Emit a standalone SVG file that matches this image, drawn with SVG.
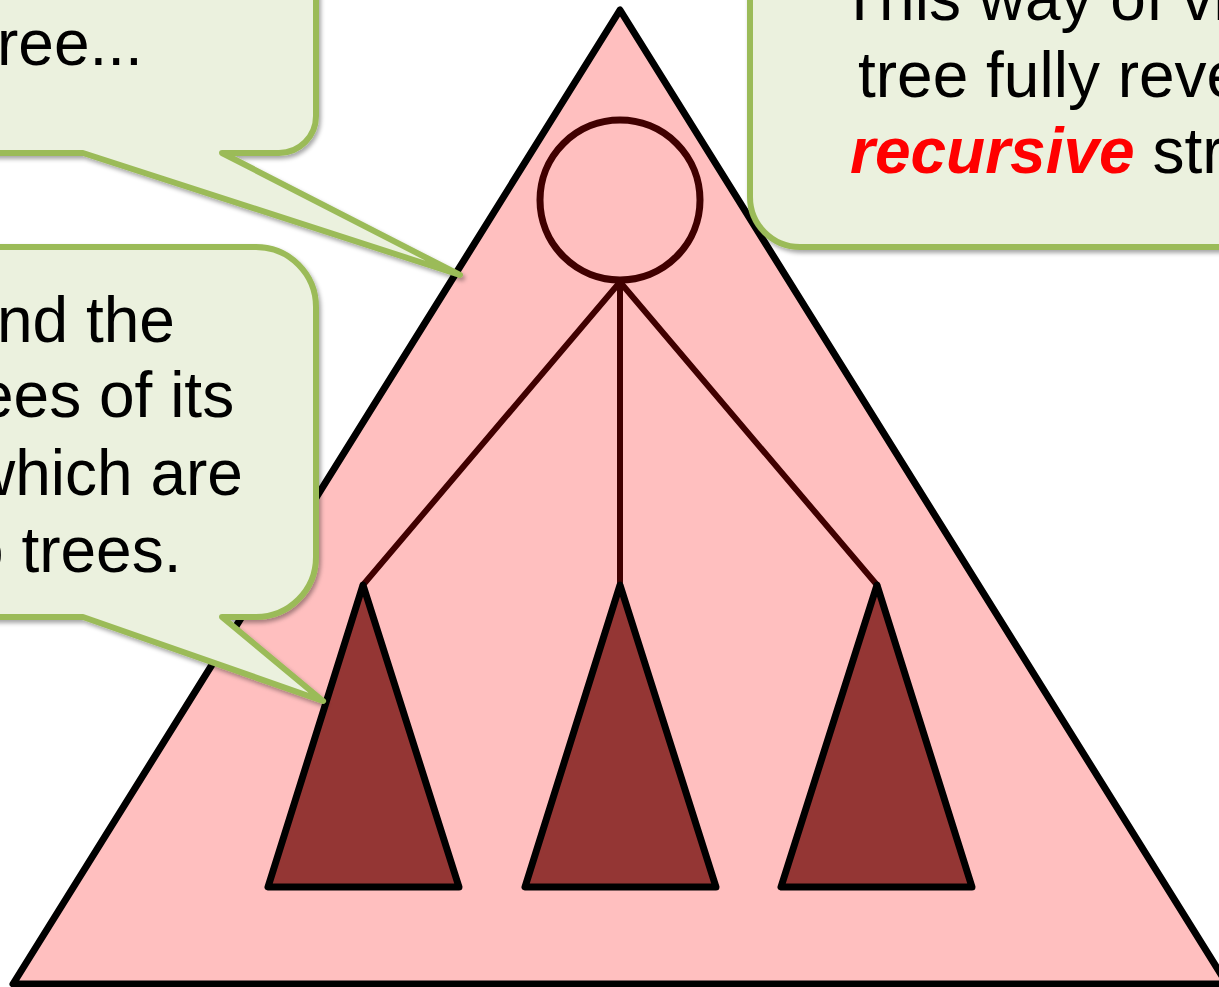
<svg xmlns="http://www.w3.org/2000/svg" width="1219" height="987" viewBox="0 0 1219 987">
<defs>
<style>
.big{fill:#FFBFBF;stroke:#000;stroke-width:7;stroke-linejoin:round}
.sub{fill:#943634;stroke:#000;stroke-width:7;stroke-linejoin:round}
.edge{stroke:#400000;stroke-width:6;fill:none;stroke-linecap:round}
.root{fill:none;stroke:#400000;stroke-width:7}
.callout{fill:#EBF1DE;stroke:#9BBB59;stroke-width:6;stroke-linejoin:round;filter:url(#sh)}
.t{font-family:"Liberation Sans",Arial,sans-serif;font-size:64px;fill:#000}
.em{font-weight:bold;font-style:italic;fill:#FF0000}
</style>
<filter id="sh" x="-20%" y="-20%" width="140%" height="140%">
<feDropShadow dx="2" dy="3" stdDeviation="2" flood-color="#000" flood-opacity="0.35"/>
</filter>
</defs>
<g id="tree">
<polygon class="big" points="620,10 13,984 1227,984"/>
</g>
<g id="connectors">
<line class="edge" x1="620" y1="282" x2="363" y2="585"/>
<line class="edge" x1="620" y1="282" x2="620" y2="585"/>
<line class="edge" x1="620" y1="282" x2="877" y2="585"/>
</g>
<g id="root">
<circle class="root" cx="620" cy="200" r="80"/>
</g>
<g id="subtree1">
<polygon class="sub" points="363,585 268,887 459,887"/>
</g>
<g id="subtree2">
<polygon class="sub" points="620,585 525,887 716,887"/>
</g>
<g id="subtree3">
<polygon class="sub" points="877,585 781,887 972,887"/>
</g>
<g id="callout1">
<path class="callout" d="M -100 -100 H 316 V 116 A 37 37 0 0 1 279 153 H 222 L 460 275 L 83 153 H -100 Z"/>
<text class="t" x="-3" y="65">ree...</text>
</g>
<g id="callout2">
<path class="callout" d="M -100 247 H 256 A 60 60 0 0 1 316 307 V 557 A 60 60 0 0 1 256 617 H 222 L 323 701 L 83 617 H -100 Z"/>
<text class="t" x="-3" y="342">nd the</text>
<text class="t" x="-22" y="417">ees of its</text>
<text class="t" x="-31" y="495">which are</text>
<text class="t" x="-32" y="572">o trees.</text>
</g>
<g id="callout3">
<path class="callout" d="M 750 -100 V 197 A 50 50 0 0 0 800 247 H 1400 V -100 Z"/>
<text class="t" x="840" y="20">This way of vi</text>
<text class="t" x="858" y="97">tree fully reve</text>
<text class="t" x="850" y="173"><tspan class="em">recursive</tspan> str</text>
</g>
</svg>
